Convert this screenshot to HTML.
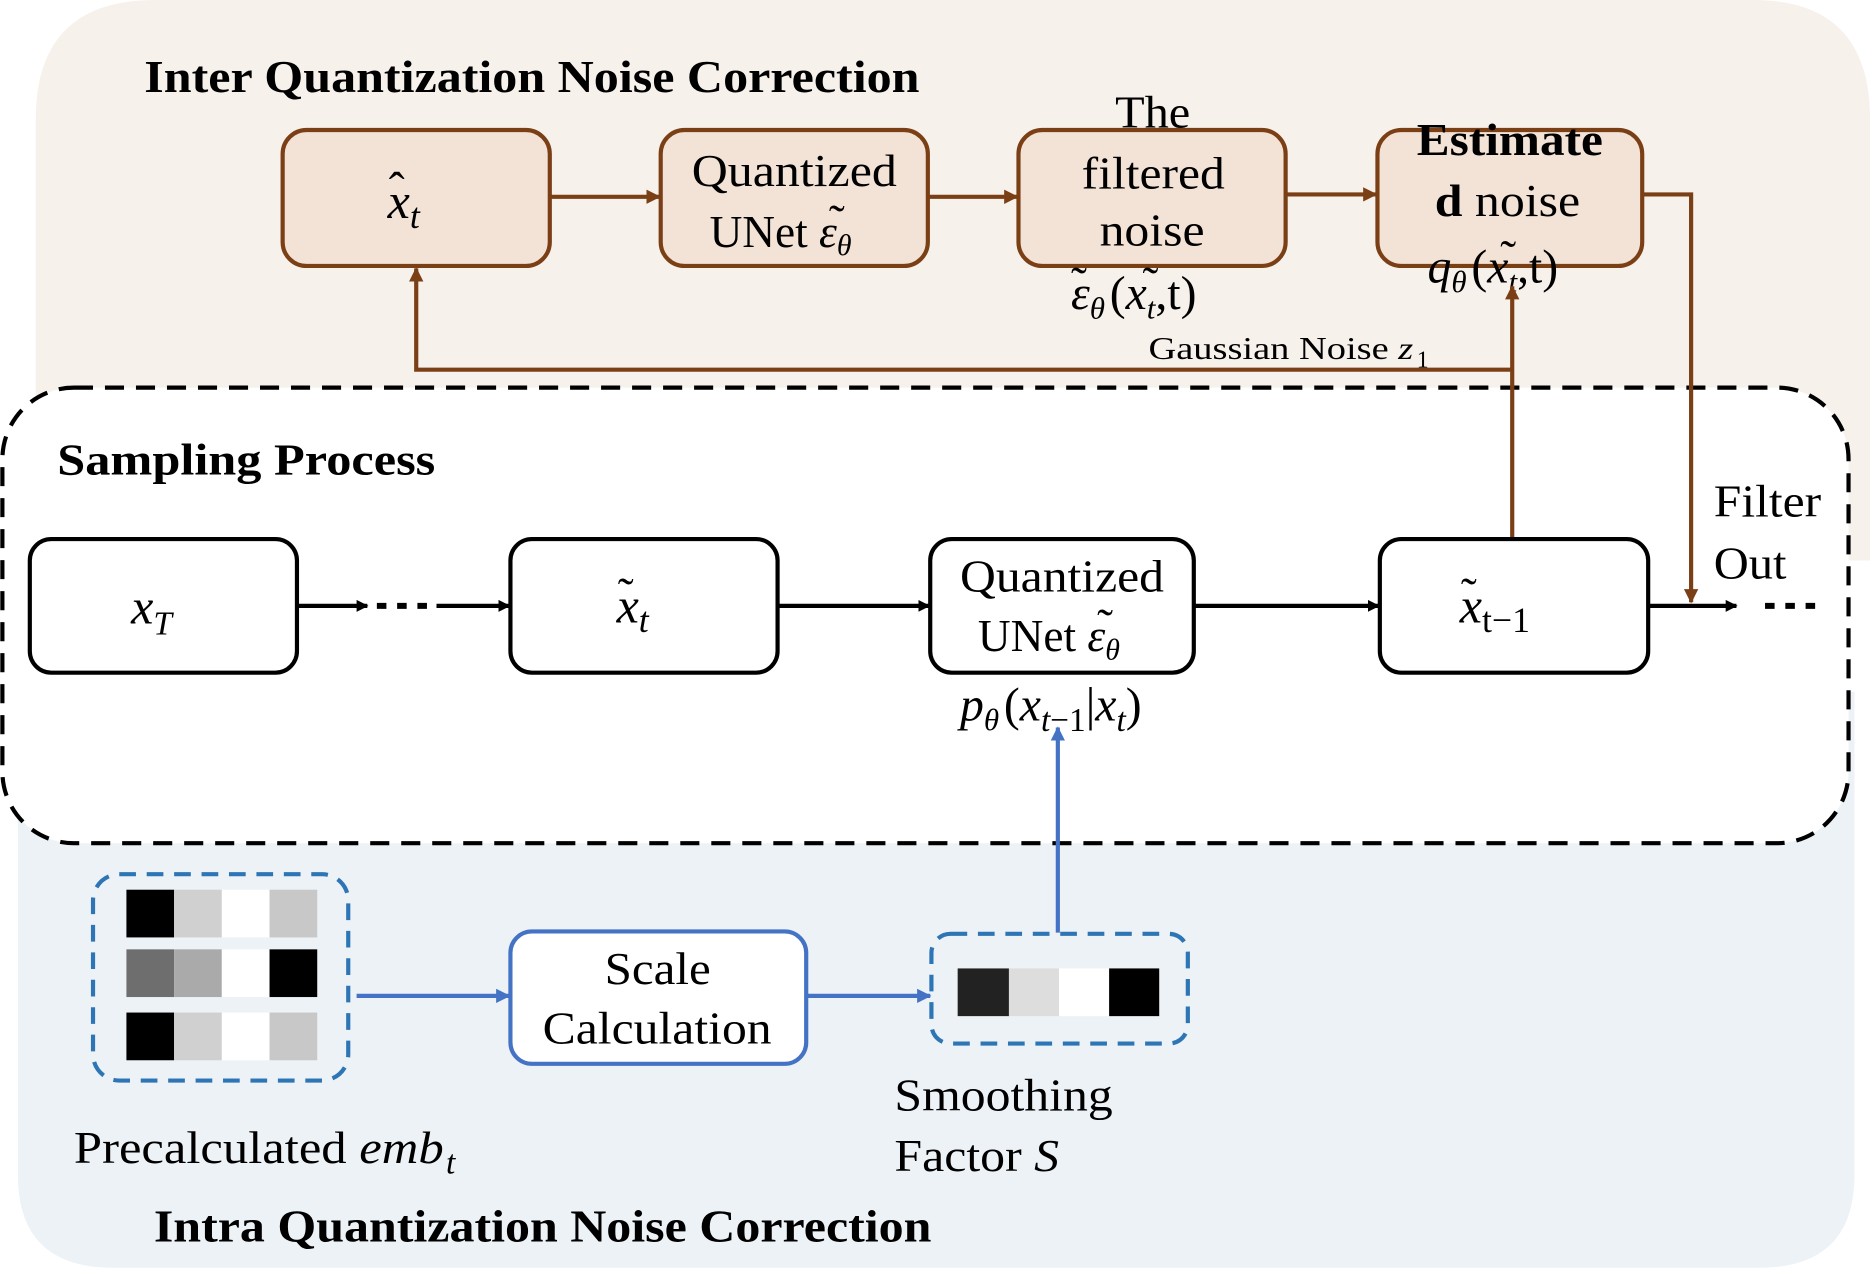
<!DOCTYPE html>
<html><head><meta charset="utf-8"><style>
html,body{margin:0;padding:0;background:#fff;}
svg{display:block;}
text{font-family:"Liberation Serif","Times New Roman",serif;fill:#000;}
.m{font-style:italic;}
</style></head><body>
<svg width="1870" height="1284" viewBox="0 0 1568 1076.6" preserveAspectRatio="none" xmlns="http://www.w3.org/2000/svg">
<defs>
<marker id="ab" markerWidth="10" markerHeight="10" refX="9" refY="5" orient="auto" markerUnits="userSpaceOnUse"><path d="M0,0 L10,5 L0,10 z" fill="#000"/></marker>
<marker id="ar" markerWidth="12" markerHeight="12" refX="11" refY="6" orient="auto" markerUnits="userSpaceOnUse"><path d="M0,0 L12,6 L0,12 z" fill="#7b3f16"/></marker>
<marker id="au" markerWidth="12" markerHeight="12" refX="11" refY="6" orient="auto" markerUnits="userSpaceOnUse"><path d="M0,0 L12,6 L0,12 z" fill="#4472c4"/></marker>
</defs>
<path d="M130,0 H1470 Q1568,0 1568,100 V470 H30 V100 Q30,0 130,0 Z" fill="#f7f1ec"/>
<path d="M15,580 H1555 V985 Q1555,1063 1475,1063 H95 Q15,1063 15,985 Z" fill="#edf2f6"/>
<rect x="2" y="325" width="1548" height="382" rx="60" fill="#fff" stroke="#000" stroke-width="3.5" stroke-dasharray="16,10"/>
<text x="121" y="77" font-size="38" font-weight="bold" textLength="650" lengthAdjust="spacingAndGlyphs">Inter Quantization Noise Correction</text>
<text x="48" y="398" font-size="37" font-weight="bold" textLength="317" lengthAdjust="spacingAndGlyphs">Sampling Process</text>
<text x="129" y="1041" font-size="38" font-weight="bold" textLength="652" lengthAdjust="spacingAndGlyphs">Intra Quantization Noise Correction</text>
<g fill="#f3e3d6" stroke="#7b3f16" stroke-width="3.5">
<rect x="237" y="109" width="224" height="114" rx="20"/>
<rect x="554" y="109" width="224" height="114" rx="20"/>
<rect x="854" y="109" width="224" height="114" rx="20"/>
<rect x="1155" y="109" width="222" height="114" rx="20"/>
</g>
<text x="325" y="183" font-size="42" class="m">x<tspan font-size="30" dy="8">t</tspan></text>
<text x="326" y="172" font-size="40">ˆ</text>
<text x="580" y="156" font-size="38" textLength="172" lengthAdjust="spacingAndGlyphs">Quantized</text>
<text x="595" y="207" font-size="38">UNet <tspan class="m">ε</tspan><tspan class="m" font-size="25" dy="7">θ</tspan></text>
<text x="695" y="199" font-size="40">˜</text>
<text x="935" y="107" font-size="38" textLength="63" lengthAdjust="spacingAndGlyphs">The</text>
<text x="907" y="158" font-size="38" textLength="120" lengthAdjust="spacingAndGlyphs">filtered</text>
<text x="922" y="206" font-size="38" textLength="88" lengthAdjust="spacingAndGlyphs">noise</text>
<text x="898" y="259" font-size="40"><tspan class="m">ε</tspan><tspan class="m" font-size="26" dy="8">θ</tspan><tspan dy="-8" dx="4">(</tspan><tspan class="m">x</tspan><tspan class="m" font-size="26" dy="8">t</tspan><tspan dy="-8">,t)</tspan></text>
<text x="898" y="251" font-size="40">˜</text>
<text x="958" y="251" font-size="40">˜</text>
<text x="1188" y="130" font-size="38" font-weight="bold" textLength="156" lengthAdjust="spacingAndGlyphs">Estimate</text>
<text x="1203" y="181" font-size="38" textLength="122" lengthAdjust="spacingAndGlyphs"><tspan font-weight="bold">d</tspan> noise</text>
<text x="1197" y="237" font-size="40"><tspan class="m">q</tspan><tspan class="m" font-size="26" dy="8">θ</tspan><tspan dy="-8" dx="4">(</tspan><tspan class="m">x</tspan><tspan class="m" font-size="26" dy="8">t</tspan><tspan dy="-8">,t)</tspan></text>
<text x="1258" y="229" font-size="40">˜</text>
<text x="963" y="301" font-size="27" textLength="222" lengthAdjust="spacingAndGlyphs">Gaussian Noise <tspan class="m">z</tspan></text>
<text x="1188" y="308" font-size="20">1</text>
<g stroke="#7b3f16" stroke-width="3.5" fill="none">
<line x1="461" y1="165" x2="553" y2="165" marker-end="url(#ar)"/>
<line x1="778" y1="165" x2="853" y2="165" marker-end="url(#ar)"/>
<line x1="1078" y1="163" x2="1154" y2="163" marker-end="url(#ar)"/>
<polyline points="1377,163 1418,163 1418,505" marker-end="url(#ar)"/>
<line x1="1268" y1="452" x2="1268" y2="240" marker-end="url(#ar)"/>
<polyline points="1268,310 349,310 349,225" marker-end="url(#ar)"/>
</g>
<g fill="#fff" stroke="#000" stroke-width="3.5">
<rect x="25" y="452" width="224" height="112" rx="18"/>
<rect x="428" y="452" width="224" height="112" rx="18"/>
<rect x="780" y="452" width="221" height="112" rx="18"/>
<rect x="1157" y="452" width="225" height="112" rx="18"/>
</g>
<text x="110" y="523" font-size="42" class="m">x<tspan font-size="28" dy="9">T</tspan></text>
<text x="517" y="522" font-size="42" class="m">x<tspan font-size="30" dy="8">t</tspan></text>
<text x="518" y="512" font-size="40">˜</text>
<text x="805" y="496" font-size="38" textLength="171" lengthAdjust="spacingAndGlyphs">Quantized</text>
<text x="820" y="546" font-size="38">UNet <tspan class="m">ε</tspan><tspan class="m" font-size="25" dy="7">θ</tspan></text>
<text x="920" y="538" font-size="40">˜</text>
<text x="1224" y="522" font-size="42" class="m">x<tspan font-size="30" dy="8" font-style="normal">t−1</tspan></text>
<text x="1225" y="512" font-size="40">˜</text>
<text x="805" y="604" font-size="40"><tspan class="m">p</tspan><tspan class="m" font-size="26" dy="8">θ</tspan><tspan dy="-8" dx="4">(</tspan><tspan class="m">x</tspan><tspan font-size="28" dy="9"><tspan class="m">t</tspan>−1</tspan><tspan dy="-9">|</tspan><tspan class="m">x</tspan><tspan class="m" font-size="28" dy="9">t</tspan><tspan dy="-9">)</tspan></text>
<text x="1437" y="433" font-size="38" textLength="90" lengthAdjust="spacingAndGlyphs">Filter</text>
<text x="1437" y="485" font-size="38" textLength="61" lengthAdjust="spacingAndGlyphs">Out</text>
<g stroke="#000" stroke-width="3.5" fill="none">
<line x1="249" y1="508" x2="308" y2="508" marker-end="url(#ab)"/>
<line x1="316" y1="508" x2="366" y2="508" stroke-dasharray="8,9" stroke-width="5"/>
<line x1="366" y1="508" x2="427" y2="508" marker-end="url(#ab)"/>
<line x1="652" y1="508" x2="779" y2="508" marker-end="url(#ab)"/>
<line x1="1001" y1="508" x2="1156" y2="508" marker-end="url(#ab)"/>
<line x1="1382" y1="508" x2="1456" y2="508" marker-end="url(#ab)"/>
<line x1="1480" y1="508" x2="1528" y2="508" stroke-dasharray="8,9" stroke-width="5"/>
</g>
<rect x="78" y="733" width="214" height="173" rx="22" fill="none" stroke="#2e75b6" stroke-width="3.5" stroke-dasharray="14,9"/>
<rect x="106" y="746" width="40" height="40" fill="#000"/><rect x="146" y="746" width="40" height="40" fill="#d0d0d0"/><rect x="186" y="746" width="40" height="40" fill="#fff"/><rect x="226" y="746" width="40" height="40" fill="#c8c8c8"/>
<rect x="106" y="796" width="40" height="40" fill="#6e6e6e"/><rect x="146" y="796" width="40" height="40" fill="#aaa"/><rect x="186" y="796" width="40" height="40" fill="#fff"/><rect x="226" y="796" width="40" height="40" fill="#000"/>
<rect x="106" y="849" width="40" height="40" fill="#000"/><rect x="146" y="849" width="40" height="40" fill="#d0d0d0"/><rect x="186" y="849" width="40" height="40" fill="#fff"/><rect x="226" y="849" width="40" height="40" fill="#c8c8c8"/>
<rect x="428" y="781" width="248" height="111" rx="18" fill="#fff" stroke="#4472c4" stroke-width="3.5"/>
<text x="507" y="825" font-size="38" textLength="89" lengthAdjust="spacingAndGlyphs">Scale</text>
<text x="455" y="875" font-size="38" textLength="192" lengthAdjust="spacingAndGlyphs">Calculation</text>
<rect x="781" y="783" width="215" height="92" rx="16" fill="none" stroke="#2e75b6" stroke-width="3.5" stroke-dasharray="14,9"/>
<rect x="803" y="812" width="43" height="40" fill="#222"/><rect x="846" y="812" width="42" height="40" fill="#ddd"/><rect x="888" y="812" width="42" height="40" fill="#fff"/><rect x="930" y="812" width="42" height="40" fill="#000"/>
<g stroke="#4472c4" stroke-width="3.5" fill="none">
<line x1="299" y1="835" x2="427" y2="835" marker-end="url(#au)"/>
<line x1="676" y1="835" x2="780" y2="835" marker-end="url(#au)"/>
<line x1="887" y1="782" x2="887" y2="610" marker-end="url(#au)"/>
</g>
<text x="62" y="975" font-size="38" textLength="310" lengthAdjust="spacingAndGlyphs">Precalculated <tspan class="m">emb</tspan></text>
<text x="374" y="984" font-size="28" class="m">t</text>
<text x="750" y="931" font-size="38" textLength="183" lengthAdjust="spacingAndGlyphs">Smoothing</text>
<text x="750" y="982" font-size="38" textLength="138" lengthAdjust="spacingAndGlyphs">Factor <tspan class="m">S</tspan></text>
</svg>
</body></html>
